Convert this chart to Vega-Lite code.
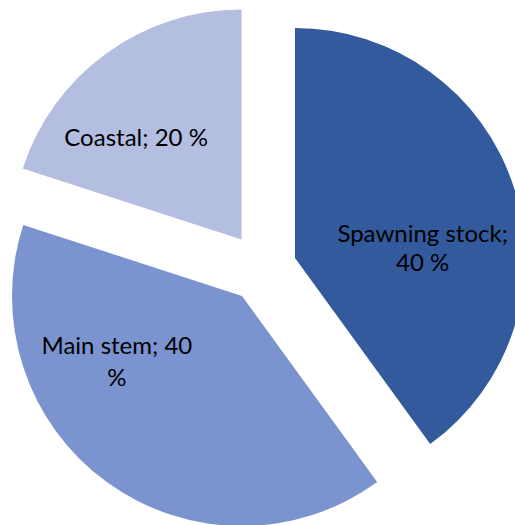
{
  "$schema": "https://vega.github.io/schema/vega-lite/v6.json",
  "width": 515,
  "height": 525,
  "autosize": {"type": "fit", "contains": "padding"},
  "padding": 0,
  "background": "white",
  "view": {"stroke": null},
  "data": {
    "values": [
      {"category": "Spawning stock", "share": 40, "label": ["Spawning stock;", "40 %"]},
      {"category": "Main stem", "share": 40, "label": ["Main stem; 40", "%"]},
      {"category": "Coastal", "share": 20, "label": ["Coastal; 20 %"]}
    ]
  },
  "transform": [
    {"stack": "share", "groupby": [], "sort": [{"field": "category", "order": "descending"}], "as": ["v0", "v1"]}
  ],
  "layer": [
    {
      "transform": [{"filter": "datum.category === 'Spawning stock'"}],
      "mark": {"type": "arc", "x": 295, "y": 258, "radius": 230},
      "encoding": {
        "theta": {"field": "v0", "type": "quantitative", "scale": {"domain": [0, 100]}},
        "theta2": {"field": "v1"},
        "color": {"field": "category", "type": "nominal", "legend": null,
          "scale": {"domain": ["Spawning stock", "Main stem", "Coastal"], "range": ["#325A9C", "#7B93CF", "#B3BEE0"]}}
      }
    },
    {
      "transform": [{"filter": "datum.category === 'Main stem'"}],
      "mark": {"type": "arc", "x": 242, "y": 296, "radius": 230},
      "encoding": {
        "theta": {"field": "v0", "type": "quantitative", "scale": {"domain": [0, 100]}},
        "theta2": {"field": "v1"},
        "color": {"field": "category", "type": "nominal", "legend": null}
      }
    },
    {
      "transform": [{"filter": "datum.category === 'Coastal'"}],
      "mark": {"type": "arc", "x": 241.5, "y": 239.5, "radius": 230},
      "encoding": {
        "theta": {"field": "v0", "type": "quantitative", "scale": {"domain": [0, 100]}},
        "theta2": {"field": "v1"},
        "color": {"field": "category", "type": "nominal", "legend": null}
      }
    },
    {
      "transform": [{"filter": "datum.category === 'Spawning stock'"}],
      "mark": {"type": "text", "x": 295, "y": 258, "radius": 128, "thetaOffset": 1.5, "dy": -14, "font": "Lato", "fontSize": 24, "lineHeight": 29, "fill": "black"},
      "encoding": {
        "theta": {"field": "v0", "type": "quantitative"},
        "text": {"field": "label"}
      }
    },
    {
      "transform": [{"filter": "datum.category === 'Main stem'"}],
      "mark": {"type": "text", "x": 242, "y": 296, "radius": 141, "thetaOffset": 1.72, "dy": -14, "font": "Lato", "fontSize": 24, "lineHeight": 32, "fill": "black"},
      "encoding": {
        "theta": {"field": "v0", "type": "quantitative"},
        "text": {"field": "label"}
      }
    },
    {
      "transform": [{"filter": "datum.category === 'Coastal'"}],
      "mark": {"type": "text", "x": 241.5, "y": 239.5, "radius": 147, "thetaOffset": 0.457, "dy": 2, "font": "Lato", "fontSize": 24, "fill": "black"},
      "encoding": {
        "theta": {"field": "v0", "type": "quantitative"},
        "text": {"field": "label"}
      }
    }
  ]
}
